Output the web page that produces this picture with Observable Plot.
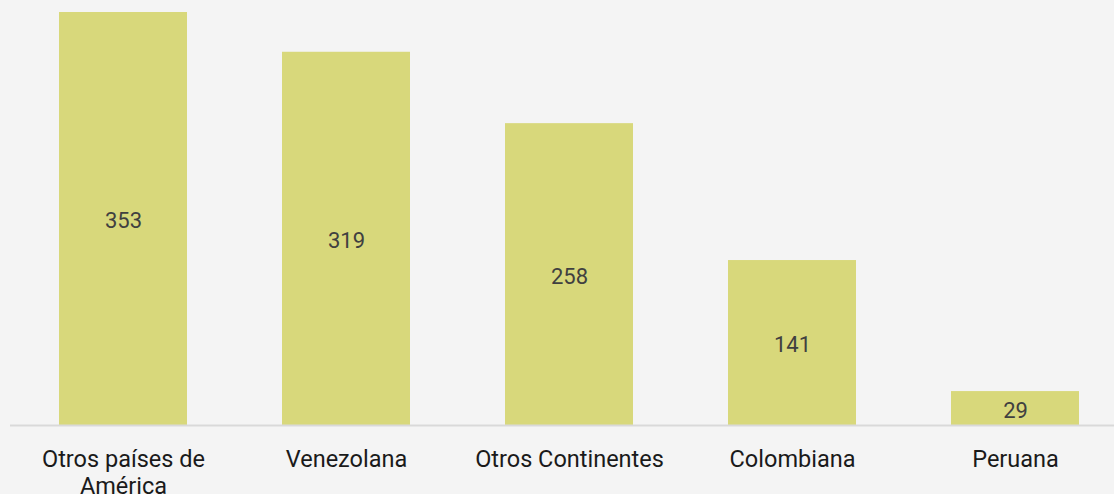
<!DOCTYPE html>
<html>
<head>
<meta charset="utf-8">
<script src="https://cdn.jsdelivr.net/npm/d3@7"></script>
<script src="https://cdn.jsdelivr.net/npm/@observablehq/plot@0.6"></script>
<style>
  html, body { margin: 0; padding: 0; background: #f4f4f4; }
  #chart svg { display: block; }
</style>
</head>
<body>
<div id="chart"></div>
<script>
const categories = ["Otros países de\nAmérica", "Venezolana", "Otros Continentes", "Colombiana", "Peruana"];
const values = [353, 319, 258, 141, 29];

const data = categories.map((c, i) => ({category: c, value: values[i]}));

const chart = Plot.plot({
  width: 1114,
  height: 494,
  marginTop: 12,
  marginBottom: 69,
  marginLeft: 10,
  marginRight: 0,
  style: {background: "#f4f4f4", fontFamily: "Roboto, sans-serif"},
  x: {domain: categories, paddingInner: 0.427, paddingOuter: 0.1835, align: 0.586, label: null},
  y: {domain: [0, 353], axis: null},
  marks: [
    Plot.barY(data, {x: "category", y: "value", fill: "#d8d87b"}),
    Plot.ruleY([0], {stroke: "#d9d9d9", strokeWidth: 2}),
    Plot.text(data, {x: "category", y: d => d.value / 2, text: d => String(d.value), fill: "#404040", fontSize: 22, dy: 2}),
    Plot.axisX({tickSize: 0, tickPadding: 23, fontSize: 23.5, lineHeight: 1.13, fill: "#1a1a1a", label: null})
  ]
});
document.getElementById("chart").appendChild(chart);
</script>
</body>
</html>
